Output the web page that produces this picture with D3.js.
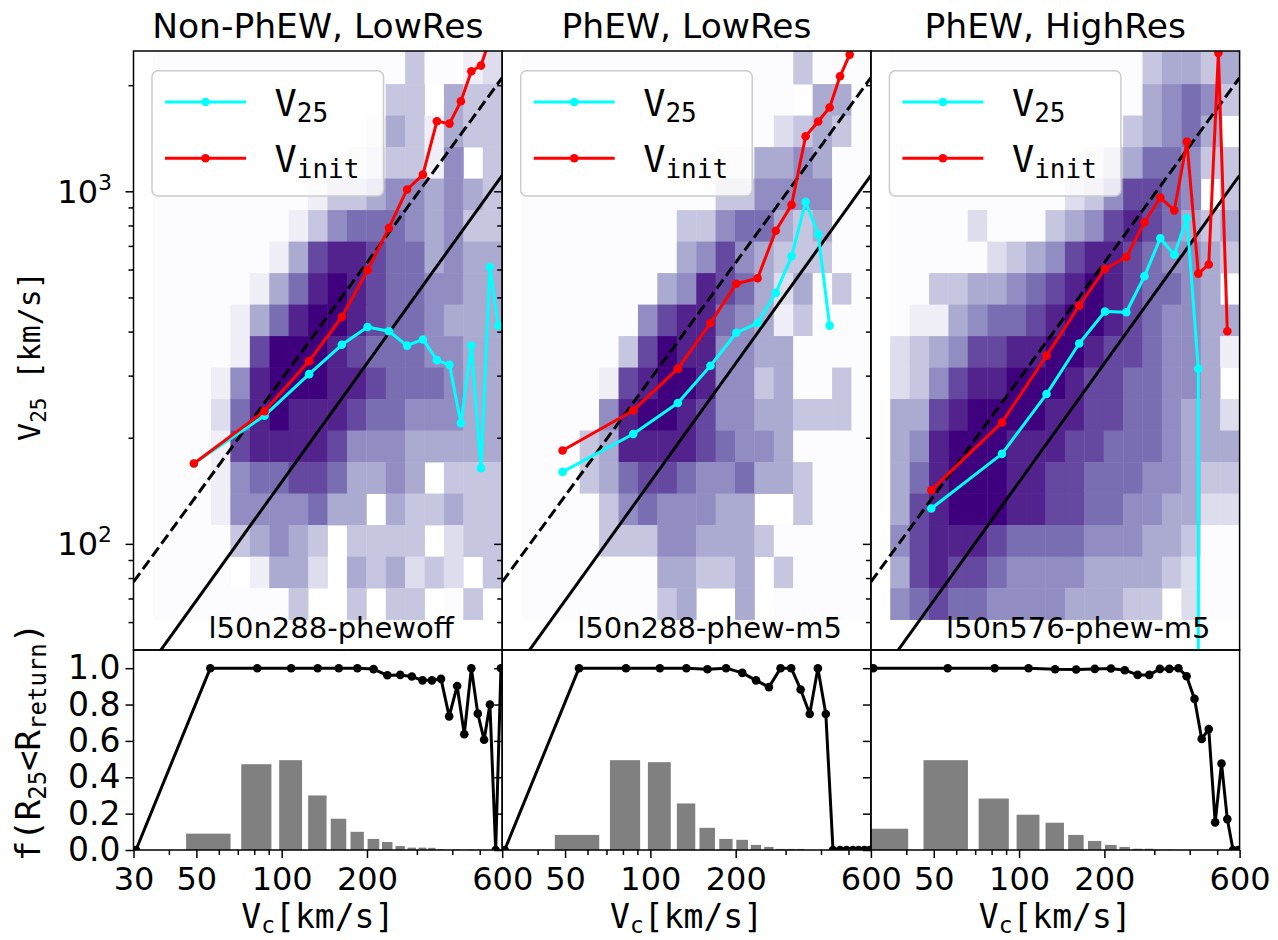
<!DOCTYPE html>
<html>
<head>
<meta charset="utf-8">
<script src="https://cdn.jsdelivr.net/npm/d3@7"></script>
<style>
  body { margin: 0; background: #fff; }
  svg text { font-family: "DejaVu Sans", sans-serif; fill: #000; }
  svg text.mono { font-family: "DejaVu Sans Mono", monospace; }
</style>
</head>
<body>
<svg id="chart" width="1278" height="940"></svg>
<script>
// ---- data ----
const titles = ["Non-PhEW, LowRes", "PhEW, LowRes", "PhEW, HighRes"];
const runs = ["l50n288-phewoff", "l50n288-phew-m5", "l50n576-phew-m5"];

// 2d histogram bin edges (km/s)
const xEdges = [35.1, 41.1, 48.1, 56.3, 65.9, 77.2, 90.4, 105.8, 123.9, 145.1, 169.9, 198.9, 232.9, 272.6, 319.2, 373.7, 437.6, 512.3, 600];
const yEdges = [61.0, 74.9, 92.0, 113.1, 138.9, 170.6, 209.6, 257.5, 316.3, 388.5, 477.2, 586.2, 720.1, 884.6, 1086.7, 1334.9, 1639.8, 2014.3, 2520];

// shade level 0-9 per cell, top row first, "." = empty
const density1 = [
  "000000000000030012", "00000000000033.433", "000000000001431433", "0000000000123315.3",
  "000000001334554543", "000000013566654533", "000000147887664544", "000001468987665544",
  "000014689987665444", "000017999876665544", "000158999887666544", "000268988876655544",
  "000178888755544444", "00015667764454.333", "00015555644.433433", "000034543.3333.233",
  "0000.1442.434232.3", "00000003..3.33.03."
];
const density2 = [
  "000000000000003000", "00000000000000.440", "000000000000023430", "000000000011445400",
  "000000000033555500", "000000003356643400", "000000004575433300", "000000045876424030",
  "000000578865413000", "000003798855440000", "000017899855340030", "000058998755443330",
  "000348888765540000", "000346776556443000", "000035655544..3000", "000033355444300000",
  "000000044334.30000", "000000034..4.00000"
];
const density3 = [
  "000000000000034434", "000000000000045653", "00000000000034564.", "000000000013466533",
  "0000000002357765.3", "000020003457876434", "000002345788765543", "00334456789876654.",
  "011456678998765544", "234577889987765541", "23578899987766554.", "447899998877665442",
  "458999888776665444", "468999887766655433", "478999887766554422", "578887666655544300",
  "478776555544443200", "56766555544433.200"
];
const densities = [density1, density2, density3];

// binned medians in the upper panels
const vBins = [49, 87, 125, 163, 201, 239, 277, 315, 353, 391, 429, 467, 505, 543, 581];
const v25 = [
  [169, 231, 303, 367, 412, 401, 365, 380, 332, 322, 220, 365, 164, 610, 416],
  [160, 205, 251, 320, 397, 423, 515, 654, 933, 755, 416],
  [126, 180, 266, 370, 456, 454, 574, 736, 661, 840, 314, 0]
];
const vInit = [
  [169, 238, 330, 440, 597, 787, 1012, 1115, 1580, 1556, 1800, 2190, 2273, 2700, 3100],
  [184, 239, 314, 423, 547, 567, 773, 915, 1432, 1577, 1728, 2119, 2442, 2900],
  [142, 221, 342, 474, 602, 651, 817, 960, 883, 1383, 584, 620, 2470, 401]
];
// reference relations (end points)
const dashedRef = [[30, 78], [600, 2100]];
const solidRef = [[30, 39], [600, 1110]];

// lower panels
const fBins = [30.6, 56, 82, 108, 134, 159, 185, 211, 236, 262, 288, 314, 339, 365, 390, 416, 441, 467, 492, 518, 543, 569, 594];
const fReturn = [
  [0, 1, 1, 1, 1, 1, 1, 0.995, 0.961, 0.963, 0.954, 0.933, 0.933, 0.941, 0.735, 0.902, 0.637, 1, 0.75, 0.606, 0.8, 0, 1],
  [0, 1, 1, 1, 1, 0.994, 1, 0.974, 0.933, 0.896, 1, 1, 0.883, 0.748, 1, 0.748, 0, 0, 0, 0, 0, 0, 0],
  [1, 1, 1, 1, 0.994, 0.993, 0.996, 0.998, 0.989, 0.963, 0.963, 0.996, 0.996, 1, 0.956, 0.831, 0.611, 0.665, 0.152, 0.476, 0.17, 0, 0]
];
const barFrac = [
  [0, 0.09, 0.472, 0.494, 0.30, 0.172, 0.10, 0.061, 0.044, 0.022, 0.013, 0.013, 0.012, 0.004, 0, 0.003, 0, 0.003, 0, 0, 0, 0, 0],
  [0, 0.083, 0.494, 0.483, 0.256, 0.122, 0.061, 0.056, 0.028, 0.017, 0.006, 0.006, 0.006, 0, 0, 0, 0, 0, 0, 0, 0, 0, 0],
  [0.117, 0.494, 0.283, 0.194, 0.15, 0.083, 0.05, 0.028, 0.017, 0.007, 0.007, 0.002, 0.002, 0, 0, 0, 0, 0, 0, 0, 0, 0, 0]
];
const barHalfWidth = 10; // km/s

const xMajor = [30, 50, 100, 200, 600];
const xMinor = [40, 60, 70, 80, 90, 300, 400, 500];
const yTopMajor = [100, 1000];
const yTopMinor = [60, 70, 80, 90, 200, 300, 400, 500, 600, 700, 800, 900, 2000];
const yBotTicks = [0, 0.2, 0.4, 0.6, 0.8, 1.0];

// ---- layout ----
const X0 = 133.5, W = 368.7;
const topY = 51, midY = 650, botY = 850;
const tiny = 1e-300; // zeros on a log axis get clipped to a tiny value

const svg = d3.select("#chart");
const defs = svg.append("defs");

const yTop = d3.scaleLog().domain([50, 2500]).range([midY, topY]);
const yBot = d3.scaleLinear().domain([0, 1.1]).range([botY, midY]);
const xScales = [0, 1, 2].map(p => d3.scaleLog().domain([30, 600]).range([X0 + p * W, X0 + (p + 1) * W]));

// ---- panel contents ----
xScales.forEach((x, p) => {
  const left = X0 + p * W;

  defs.append("clipPath").attr("id", `clipTop${p}`)
    .append("rect").attr("x", left).attr("y", topY).attr("width", W).attr("height", midY - topY);
  defs.append("clipPath").attr("id", `clipBot${p}`)
    .append("rect").attr("x", left).attr("y", midY).attr("width", W).attr("height", botY - midY);

  const top = svg.append("g").attr("clip-path", `url(#clipTop${p})`);

  // heatmap
  densities[p].forEach((row, i) => {
    const r = 17 - i;
    row.split("").forEach((ch, c) => {
      if (ch === ".") return;
      top.append("rect")
        .attr("x", x(xEdges[c]))
        .attr("y", yTop(yEdges[r + 1]))
        .attr("width", x(xEdges[c + 1]) - x(xEdges[c]) + 0.4)
        .attr("height", yTop(yEdges[r]) - yTop(yEdges[r + 1]) + 0.4)
        .attr("fill", d3.interpolatePurples(+ch / 9));
    });
  });

  const line = d3.line().x(d => x(d[0])).y(d => yTop(Math.max(d[1], tiny)));

  top.append("path").datum(dashedRef).attr("d", line)
    .attr("fill", "none").attr("stroke", "#000").attr("stroke-width", 3)
    .attr("stroke-dasharray", "11,4.8");
  top.append("path").datum(solidRef).attr("d", line)
    .attr("fill", "none").attr("stroke", "#000").attr("stroke-width", 3);

  [[v25[p], "#00ffff"], [vInit[p], "#ff0000"]].forEach(([vals, col]) => {
    const pts = vals.map((v, i) => [vBins[i], v]);
    top.append("path").datum(pts).attr("d", line)
      .attr("fill", "none").attr("stroke", col).attr("stroke-width", 3)
      .attr("stroke-linejoin", "round");
    top.selectAll(null).data(pts.filter(d => d[1] > 0)).enter().append("circle")
      .attr("cx", d => x(d[0])).attr("cy", d => yTop(d[1])).attr("r", 4.3)
      .attr("fill", col);
  });

  // legend
  const lg = svg.append("g");
  lg.append("rect")
    .attr("x", left + 18.5).attr("y", 70.7).attr("width", 231.5).attr("height", 125.3)
    .attr("rx", 6).attr("fill", "#fff").attr("fill-opacity", 0.8)
    .attr("stroke", "#cccccc").attr("stroke-width", 1.5);
  [["25", "#00ffff", 102], ["init", "#ff0000", 158.3]].forEach(([sub, col, ly]) => {
    lg.append("line").attr("x1", left + 31.5).attr("x2", left + 112.5)
      .attr("y1", ly).attr("y2", ly).attr("stroke", col).attr("stroke-width", 3);
    lg.append("circle").attr("cx", left + 72).attr("cy", ly).attr("r", 4.3).attr("fill", col);
    const t = lg.append("text").attr("class", "mono")
      .attr("x", left + 141).attr("y", ly + 13.5).attr("font-size", 37);
    t.append("tspan").text("V");
    t.append("tspan").attr("font-size", 26).attr("dy", 6.5).text(sub);
  });

  // run name
  svg.append("text").attr("x", left + 75).attr("y", 638)
    .attr("font-size", 29).text(runs[p]);

  // title
  svg.append("text").attr("x", left + W / 2).attr("y", 38)
    .attr("text-anchor", "middle").attr("font-size", 34.5).text(titles[p]);

  // lower panel
  const bot = svg.append("g").attr("clip-path", `url(#clipBot${p})`);
  bot.selectAll(null).data(fBins.map((c, i) => [c, barFrac[p][i]]).filter(d => d[1] > 0))
    .enter().append("rect")
    .attr("x", d => x(d[0] - barHalfWidth))
    .attr("width", d => x(d[0] + barHalfWidth) - x(d[0] - barHalfWidth))
    .attr("y", d => yBot(d[1]))
    .attr("height", d => yBot(0) - yBot(d[1]))
    .attr("fill", "#808080");

  const fPts = fBins.map((c, i) => [c, fReturn[p][i]]);
  bot.append("path").datum(fPts)
    .attr("d", d3.line().x(d => x(d[0])).y(d => yBot(d[1])))
    .attr("fill", "none").attr("stroke", "#000").attr("stroke-width", 3)
    .attr("stroke-linejoin", "round");
  bot.selectAll(null).data(fPts).enter().append("circle")
    .attr("cx", d => x(d[0])).attr("cy", d => yBot(d[1])).attr("r", 4.3)
    .attr("fill", "#000");

  // x label
  const xl = svg.append("text").attr("class", "mono")
    .attr("x", left + W / 2).attr("y", 928).attr("text-anchor", "middle").attr("font-size", 33);
  xl.append("tspan").text("V");
  xl.append("tspan").attr("font-size", 23).attr("dy", 5).text("c");
  xl.append("tspan").attr("dy", -5).text("[km/s]");
});

// ---- axes and frames ----
function styleAxis(g, fontSize) {
  g.attr("font-size", fontSize).attr("font-family", "DejaVu Sans, sans-serif");
  g.select(".domain").remove();
  g.selectAll(".tick line").attr("stroke", "#000").attr("stroke-width", 1.5);
}

xScales.forEach((x, p) => {
  const left = X0 + p * W;
  const majors = p === 0 ? xMajor : xMajor.slice(1);

  svg.append("g").attr("transform", `translate(0,${botY})`)
    .call(d3.axisBottom(x).tickValues(majors).tickFormat(d3.format("d")).tickSize(8).tickPadding(9))
    .call(g => styleAxis(g, 32));
  svg.append("g").attr("transform", `translate(0,${botY})`)
    .call(d3.axisBottom(x).tickValues(xMinor).tickFormat("").tickSize(5))
    .call(g => styleAxis(g, 32));

  svg.append("g").attr("transform", `translate(${left},0)`)
    .call(d3.axisLeft(yTop).tickValues(yTopMajor).tickFormat("").tickSize(8))
    .call(g => styleAxis(g, 32));
  svg.append("g").attr("transform", `translate(${left},0)`)
    .call(d3.axisLeft(yTop).tickValues(yTopMinor).tickFormat("").tickSize(5))
    .call(g => styleAxis(g, 32));

  svg.append("g").attr("transform", `translate(${left},0)`)
    .call(d3.axisLeft(yBot).tickValues(yBotTicks)
      .tickFormat(p === 0 ? d3.format(".1f") : "").tickSize(8).tickPadding(5))
    .call(g => styleAxis(g, 33));

  svg.append("rect").attr("x", left).attr("y", topY).attr("width", W).attr("height", midY - topY)
    .attr("fill", "none").attr("stroke", "#000").attr("stroke-width", 1.5);
  svg.append("rect").attr("x", left).attr("y", midY).attr("width", W).attr("height", botY - midY)
    .attr("fill", "none").attr("stroke", "#000").attr("stroke-width", 1.5);
});

// log tick labels 10^2, 10^3
yTopMajor.forEach(v => {
  const t = svg.append("text").attr("x", X0 - 21.5).attr("y", yTop(v) + 11.5)
    .attr("text-anchor", "end").attr("font-size", 32);
  t.append("tspan").text("10");
  t.append("tspan").attr("font-size", 22).attr("dy", -13).text(Math.round(Math.log10(v)));
});

// y labels
const yl1 = svg.append("text").attr("class", "mono").attr("font-size", 30)
  .attr("text-anchor", "middle").attr("transform", "translate(40,356) rotate(-90)");
yl1.append("tspan").text("V");
yl1.append("tspan").attr("font-size", 21).attr("dy", 6).text("25");
yl1.append("tspan").attr("dy", -6).text(" [km/s]");

const yl2 = svg.append("text").attr("class", "mono").attr("font-size", 34)
  .attr("text-anchor", "middle").attr("transform", "translate(40,742) rotate(-90)");
yl2.append("tspan").text("f(R");
yl2.append("tspan").attr("font-size", 24).attr("dy", 6).text("25");
yl2.append("tspan").attr("dy", -6).text("<R");
yl2.append("tspan").attr("font-size", 24).attr("dy", 6).text("return");
yl2.append("tspan").attr("dy", -6).text(")");
</script>
</body>
</html>
